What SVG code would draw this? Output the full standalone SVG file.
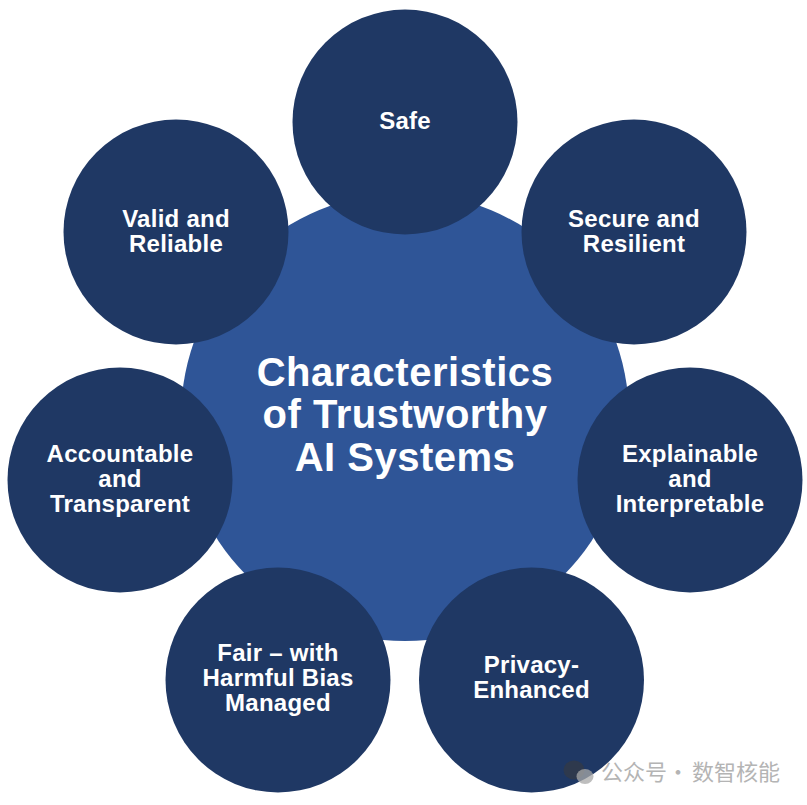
<svg xmlns="http://www.w3.org/2000/svg" width="807" height="805" viewBox="0 0 807 805">
<style>
.c{fill:#1f3864}
.t{font-family:"Liberation Sans",Arial,sans-serif;font-weight:700;fill:#fff;text-anchor:middle;font-size:24px;letter-spacing:.25px}
.h{font-size:40px;letter-spacing:.5px}
.w{font-family:"Noto Sans CJK SC",sans-serif;font-size:22px;fill:#b4b4b4}
</style>
<rect width="807" height="805" fill="#fff"/>
<g id="center"><circle cx="405" cy="417" r="224" fill="#2f5597"/>
<text class="t h" x="405" y="386">Characteristics</text><text class="t h" x="405" y="428">of Trustworthy</text><text class="t h" x="405" y="471">AI Systems</text></g>
<g id="connectors"></g>
<g id="safe"><circle class="c" cx="405" cy="122" r="112.500"/><text class="t" x="405" y="129">Safe</text></g>
<g id="secure"><circle class="c" cx="634" cy="232" r="112.500"/><text class="t" x="634" y="227">Secure and</text><text class="t" x="634" y="252">Resilient</text></g>
<g id="explainable"><circle class="c" cx="690" cy="480" r="112.500"/><text class="t" x="690" y="462">Explainable</text><text class="t" x="690" y="487">and</text><text class="t" x="690" y="512">Interpretable</text></g>
<g id="privacy"><circle class="c" cx="531.500" cy="680" r="112.500"/><text class="t" x="531.500" y="673">Privacy-</text><text class="t" x="531.500" y="698">Enhanced</text></g>
<g id="fair"><circle class="c" cx="278" cy="680" r="112.500"/><text class="t" x="278" y="661">Fair – with</text><text class="t" x="278" y="686">Harmful Bias</text><text class="t" x="278" y="711">Managed</text></g>
<g id="accountable"><circle class="c" cx="120" cy="480" r="112.500"/><text class="t" x="120" y="462">Accountable</text><text class="t" x="120" y="487">and</text><text class="t" x="120" y="512">Transparent</text></g>
<g id="valid"><circle class="c" cx="176" cy="232" r="112.500"/><text class="t" x="176" y="227">Valid and</text><text class="t" x="176" y="252">Reliable</text></g>
<g id="watermark">
<ellipse cx="574" cy="770" rx="10.500" ry="9.500" fill="#3a3a3a" fill-opacity=".55"/>
<ellipse cx="585" cy="776.500" rx="8.500" ry="7.500" fill="#a8a8a8" fill-opacity=".75"/>
<text class="w" y="780"><tspan x="601">公众号</tspan><tspan x="667">·</tspan><tspan x="692">数智核能</tspan></text>
</g>
</svg>
